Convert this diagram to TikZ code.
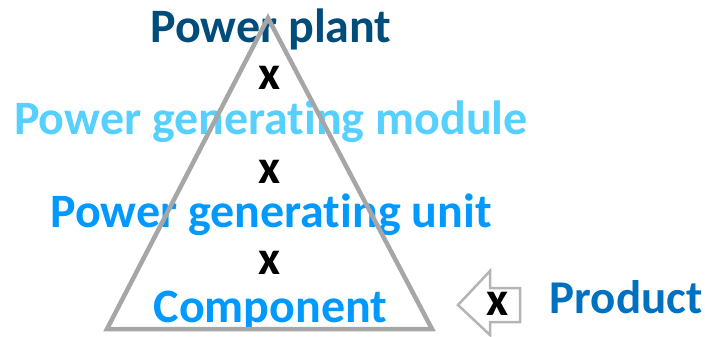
\documentclass[tikz,border=0pt]{standalone}
\usepackage{fontspec}
\setmainfont{Carlito}[Ligatures={NoCommon}]
\definecolor{plantblue}{HTML}{004C7A}
\definecolor{moduleblue}{HTML}{55D0FF}
\definecolor{unitblue}{HTML}{0099FF}
\definecolor{productblue}{HTML}{0070C0}
\definecolor{edgegray}{HTML}{A6A6A6}
\definecolor{arrowgray}{HTML}{B4B4B4}
% keep "t" and "i" as separate glyphs
\newcommand{\noligti}{t\kern0pt i}
\tikzset{
  level/.style={font=\fontsize{48}{48}\selectfont\bfseries, anchor=base, inner sep=0pt},
  times/.style={font=\fontsize{48}{48}\selectfont\bfseries, anchor=base, inner sep=0pt, text=black},
}
\begin{document}
\begin{tikzpicture}[x=1pt,y=-1pt]
\useasboundingbox (0,0) rectangle (705,337);
% hierarchy labels
\node[level, text=plantblue]  (plant)  at (271,43)  {Power plant};
\node[times]                  (x1)     at (270,90)  {x};
\node[level, text=moduleblue] (module) at (271,135) {Power genera\noligti ng module};
\node[times]                  (x2)     at (270,183) {x};
\node[level, text=unitblue]   (unit)   at (271,227) {Power genera\noligti ng unit};
\node[times]                  (x3)     at (270,274) {x};
\node[level, text=unitblue]   (comp)   at (270.5,322) {Component};
% pyramid outline
\coordinate (apex) at (268,18);
\coordinate (bl) at (107,329);
\coordinate (br) at (432,329);
\draw[edgegray, line width=4.5pt, line join=miter] (apex) -- (bl) -- (br) -- cycle;
% product arrow
\draw[arrowgray, line width=2.5pt, line join=miter]
  (458,305) -- (490,271) -- (490,288) -- (520,288) -- (520,322) -- (490,322) -- (490,335) -- cycle;
\node[times] (xp) at (498,315) {x};
\node[level, text=productblue, font=\fontsize{47}{47}\selectfont\bfseries] (product) at (626,313) {Product};
\end{tikzpicture}
\end{document}
